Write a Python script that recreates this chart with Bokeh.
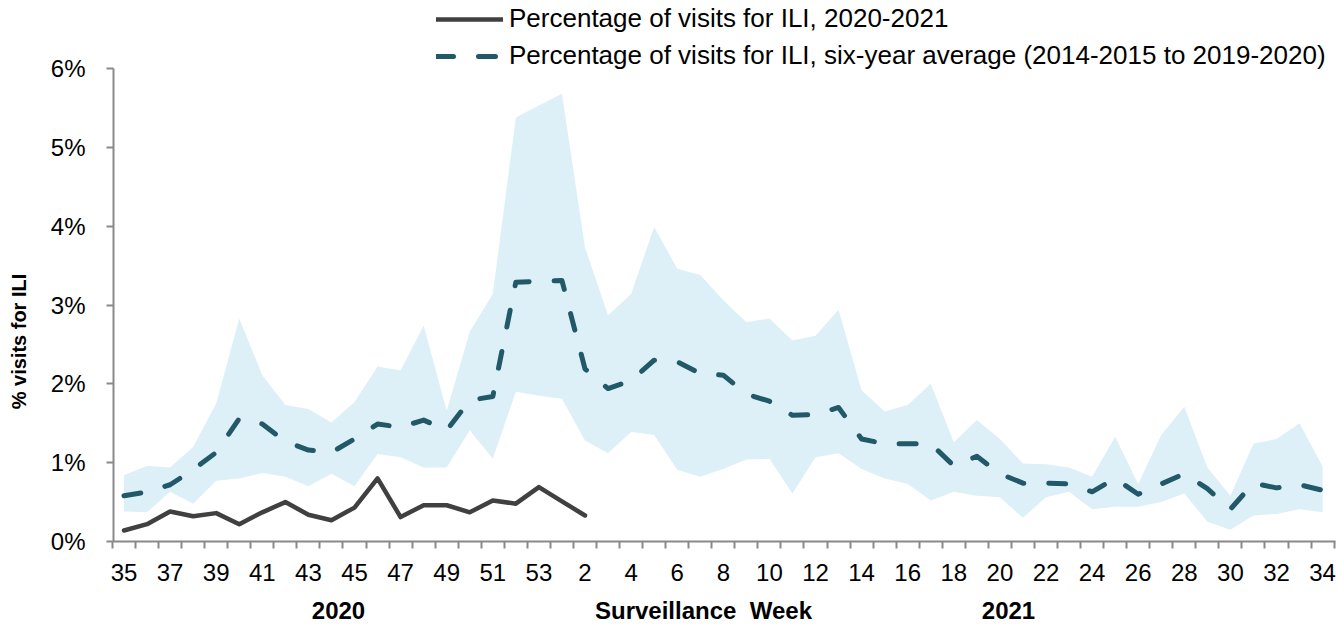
from math import pi
from bokeh.plotting import figure
from bokeh.models import Range1d, LinearAxis, FixedTicker, Legend, LegendItem, Label
from bokeh.embed import file_html
from bokeh.resources import INLINE

# ---------------- data ----------------
weeks = list(range(35, 54)) + list(range(1, 35))

ili_2020_2021 = [0.14, 0.22, 0.38, 0.32, 0.36, 0.22, 0.37, 0.50, 0.34, 0.27,
                 0.43, 0.80, 0.31, 0.46, 0.46, 0.37, 0.52, 0.48, 0.69, 0.51,
                 0.33]

six_year_avg = [0.58, 0.63, 0.72, 0.91, 1.13, 1.56, 1.49, 1.27, 1.16, 1.13,
                1.30, 1.49, 1.45, 1.54, 1.41, 1.79, 1.84, 3.29, 3.30, 3.31,
                2.19, 1.94, 2.04, 2.30, 2.28, 2.13, 2.11, 1.87, 1.78, 1.60,
                1.61, 1.70, 1.30, 1.24, 1.24, 1.24, 0.96, 1.08, 0.86, 0.74,
                0.74, 0.73, 0.63, 0.80, 0.60, 0.73, 0.86, 0.67, 0.41, 0.74,
                0.68, 0.72, 0.65]

range_upper = [0.84, 0.96, 0.94, 1.20, 1.75, 2.83, 2.11, 1.73, 1.68, 1.51,
               1.77, 2.22, 2.17, 2.74, 1.66, 2.66, 3.14, 5.38, 5.53, 5.68,
               3.73, 2.87, 3.14, 3.99, 3.46, 3.38, 3.06, 2.78, 2.83, 2.55,
               2.61, 2.94, 1.92, 1.65, 1.73, 2.00, 1.26, 1.54, 1.30, 0.99,
               0.98, 0.94, 0.82, 1.33, 0.73, 1.35, 1.71, 0.94, 0.58, 1.24,
               1.30, 1.50, 0.95]

range_lower = [0.38, 0.37, 0.63, 0.48, 0.77, 0.80, 0.87, 0.82, 0.70, 0.86,
               0.70, 1.11, 1.07, 0.94, 0.94, 1.41, 1.05, 1.90, 1.85, 1.81,
               1.28, 1.12, 1.39, 1.35, 0.91, 0.82, 0.92, 1.04, 1.05, 0.61,
               1.07, 1.12, 0.92, 0.80, 0.73, 0.52, 0.63, 0.58, 0.56, 0.30,
               0.56, 0.63, 0.41, 0.44, 0.44, 0.50, 0.61, 0.25, 0.15, 0.33,
               0.35, 0.41, 0.37]

y_ticks = [0, 1, 2, 3, 4, 5, 6]
legend_labels = ["Percentage of visits for ILI, 2020-2021",
                 "Percentage of visits for ILI, six-year average (2014-2015 to 2019-2020)"]
year_labels = ["2020", "2021"]
x_title = "Surveillance\u00a0 Week"
y_title = "% visits for ILI"

# ---------------- styling / layout ----------------
FONT = "Liberation Sans"
AXIS_GRAY = "#898989"
BAND = "#DEF0F7"
TEAL = "#215968"
DARK = "#404040"

W, H = 1338, 624
X0_PX, DX_PX = 123.5, 23.05      # pixel of first week, pixels per week
Y0_PX, DY_PX = 541.0, 473.0 / 6  # pixel of 0 %, pixels per 1 %

def xd(px):
    return (px - X0_PX) / DX_PX

def yd(py):
    return (Y0_PX - py) / DY_PX

idx = list(range(len(weeks)))

p = figure(width=W, height=H, output_backend="svg", toolbar_location=None,
           x_range=Range1d(xd(0), xd(W)), y_range=Range1d(yd(H), yd(0)),
           x_axis_type=None, y_axis_type=None,
           min_border=0, min_border_left=0, min_border_right=0,
           min_border_top=0, min_border_bottom=0)
p.outline_line_color = None
p.background_fill_color = "white"
p.border_fill_color = "white"

p.varea(x=idx, y1=range_lower, y2=range_upper, fill_color=BAND, fill_alpha=1.0)
r_avg = p.line(idx, six_year_avg, line_color=TEAL, line_width=5,
               line_dash="17 25", line_cap="round", line_join="round")
r_cur = p.line(idx[:len(ili_2020_2021)], ili_2020_2021, line_color=DARK,
               line_width=4.5, line_join="round", line_cap="round")

# x axis (fixed at 0 %)
xaxis = LinearAxis(
    ticker=FixedTicker(ticks=list(range(0, len(weeks), 2)),
                       minor_ticks=[i - 0.5 for i in range(0, len(weeks) + 1)]),
    major_label_overrides={i: str(weeks[i]) for i in range(0, len(weeks), 2)},
    fixed_location=0, bounds=(xd(113), xd(1335)),
)
xaxis.axis_line_color = AXIS_GRAY
xaxis.axis_line_width = 2
xaxis.major_tick_out = 0
xaxis.major_tick_in = 0
xaxis.major_tick_line_color = None
xaxis.minor_tick_out = 7
xaxis.minor_tick_in = 0
xaxis.minor_tick_line_color = AXIS_GRAY
xaxis.minor_tick_line_width = 2
xaxis.major_label_standoff = 15
xaxis.major_label_text_font = FONT
xaxis.major_label_text_font_size = "24px"
xaxis.major_label_text_color = "#000000"
p.add_layout(xaxis, "below")

# y axis (fixed at left edge of first category)
yaxis = LinearAxis(ticker=FixedTicker(ticks=y_ticks, minor_ticks=[]),
                   major_label_overrides={v: f"{v}%" for v in y_ticks},
                   fixed_location=xd(113), bounds=(0, 6))
yaxis.axis_line_color = AXIS_GRAY
yaxis.axis_line_width = 2
yaxis.major_tick_out = 7
yaxis.major_tick_in = 0
yaxis.major_tick_line_color = AXIS_GRAY
yaxis.major_tick_line_width = 2
yaxis.major_label_standoff = 21
yaxis.major_label_text_font = FONT
yaxis.major_label_text_font_size = "24px"
yaxis.major_label_text_color = "#000000"
p.add_layout(yaxis, "left")

# axis titles and year labels
p.add_layout(Label(x=18, y=H - 341, x_units="screen", y_units="screen", text=y_title,
                   angle=pi / 2, text_font=FONT, text_font_size="20px",
                   text_font_style="bold", text_align="center",
                   text_baseline="middle", text_color="#000000"))
for xpx, txt in [(338, year_labels[0]), (703, x_title), (1008, year_labels[1])]:
    p.add_layout(Label(x=xpx, y=H - 610, x_units="screen", y_units="screen", text=txt,
                       text_font=FONT, text_font_size="24px", text_font_style="bold",
                       text_align="center", text_baseline="alphabetic",
                       text_color="#000000"))

legend = Legend(items=[LegendItem(label=legend_labels[0], renderers=[r_cur]),
                       LegendItem(label=legend_labels[1], renderers=[r_avg])],
                location=(436, H - 71), orientation="vertical")
legend.padding = 0
legend.margin = 0
legend.spacing = 6
legend.label_height = 28
legend.glyph_height = 28
legend.glyph_width = 67
legend.label_standoff = 6
legend.label_text_font = FONT
legend.label_text_font_size = "26px"
legend.label_text_color = "#000000"
legend.border_line_color = None
legend.background_fill_alpha = 0
p.add_layout(legend, "center")

open("out.html", "w").write(file_html(p, INLINE))
